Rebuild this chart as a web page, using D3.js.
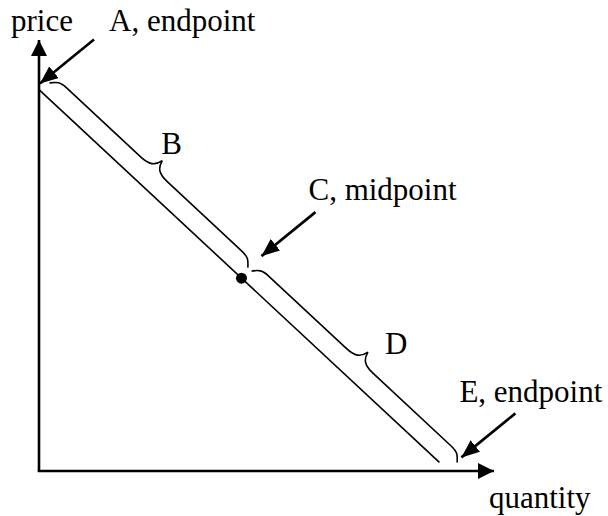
<!DOCTYPE html>
<html>
<head>
  <meta charset="utf-8">
  <title>Demand curve</title>
  <script src="https://d3js.org/d3.v7.min.js"></script>
  <style>
    body { margin: 0; background: #fff; }
    text { font-family: "Times New Roman", "Liberation Serif", serif; font-size: 31px; fill: #000; }
  </style>
</head>
<body>
  <div id="chart"></div>

  <script>
    // axis titles
    var axisTitles = ['quantity', 'price'];

    // the straight demand line, endpoints in (quantity, price)
    var demandQ = [0, 88];
    var demandP = [88.5, 2];

    // labelled points on the line
    var pointNames = ['A, endpoint', 'C, midpoint', 'E, endpoint'];
    var pointQ = [0, 44.5, 88];
    var pointP = [88.5, 44.75, 2];

    // braces, as quantity ranges along the line
    var braceNames = ['B', 'D'];
    var braceFrom = [0.5, 44.9];
    var braceTo = [44.1, 90.1];

    var width = 608, height = 516;

    var x = d3.scaleLinear().domain([0, 100]).range([39, 494]);
    var y = d3.scaleLinear().domain([0, 100]).range([471, 40]);

    // price on the demand line for a given quantity
    var priceAt = d3.scaleLinear().domain(demandQ).range(demandP);

    var svg = d3.select('#chart').append('svg')
      .attr('width', width)
      .attr('height', height);

    var defs = svg.append('defs');
    defs.append('marker')
      .attr('id', 'axis-head')
      .attr('viewBox', '0 0 16 16')
      .attr('refX', 16).attr('refY', 8)
      .attr('markerWidth', 16).attr('markerHeight', 16)
      .attr('markerUnits', 'userSpaceOnUse')
      .attr('orient', 'auto')
      .append('path')
      .attr('d', 'M0,0 L16,8 L0,16 Z')
      .attr('fill', '#000');

    defs.append('marker')
      .attr('id', 'note-head')
      .attr('viewBox', '0 0 18 15')
      .attr('refX', 18).attr('refY', 7.5)
      .attr('markerWidth', 18).attr('markerHeight', 15)
      .attr('markerUnits', 'userSpaceOnUse')
      .attr('orient', 'auto')
      .append('path')
      .attr('d', 'M0,0 L18,7.5 L0,15 Z')
      .attr('fill', '#000');

    // axes
    svg.append('line')
      .attr('x1', x(0)).attr('y1', y(0))
      .attr('x2', x(0)).attr('y2', y(100))
      .attr('stroke', '#000').attr('stroke-width', 2.6)
      .attr('marker-end', 'url(#axis-head)');
    svg.append('line')
      .attr('x1', x(0) - 1.3).attr('y1', y(0))
      .attr('x2', x(100)).attr('y2', y(0))
      .attr('stroke', '#000').attr('stroke-width', 2.6)
      .attr('marker-end', 'url(#axis-head)');

    svg.append('text')
      .attr('x', 489).attr('y', 508)
      .text(axisTitles[0]);
    svg.append('text')
      .attr('x', 11).attr('y', 31)
      .text(axisTitles[1]);

    // demand line
    svg.append('line')
      .attr('x1', x(demandQ[0])).attr('y1', y(demandP[0]))
      .attr('x2', x(demandQ[1])).attr('y2', y(demandP[1]))
      .attr('stroke', '#000').attr('stroke-width', 1.6);

    // midpoint dot
    svg.append('circle')
      .attr('cx', x(pointQ[1])).attr('cy', y(pointP[1]))
      .attr('r', 5.5)
      .attr('fill', '#000');

    // line direction in screen space
    var dx = x(demandQ[1]) - x(demandQ[0]);
    var dy = y(demandP[1]) - y(demandP[0]);
    var angle = Math.atan2(dy, dx) * 180 / Math.PI;
    var len = Math.sqrt(dx * dx + dy * dy);
    var ux = dx / len, uy = dy / len;      // along the line
    var vx = uy, vy = -ux;                  // outward, to the upper right

    // curly brace in local coordinates (u along line, -v outward)
    var vEnd = 12, vSide = 20, vTip = 32;
    function bracePath(L) {
      var m = L / 2, r = 16, t = 18;
      var p = d3.path();
      p.moveTo(0, -vEnd);
      p.bezierCurveTo(5, -vEnd - 6, 7, -vSide, r, -vSide);
      p.lineTo(m - t, -vSide);
      p.bezierCurveTo(m - 7, -vSide, m - 2, -vSide - 3, m, -vTip);
      p.bezierCurveTo(m + 2, -vSide - 3, m + 7, -vSide, m + t, -vSide);
      p.lineTo(L - r, -vSide);
      p.bezierCurveTo(L - 7, -vSide, L - 5, -vEnd - 6, L, -vEnd);
      return p.toString();
    }

    var braceText = [[-1, -7], [17, 2]]; // label offset from the brace tip, px

    braceNames.forEach(function(name, i) {
      var x0 = x(braceFrom[i]), y0 = y(priceAt(braceFrom[i]));
      var x1 = x(braceTo[i]), y1 = y(priceAt(braceTo[i]));
      var L = Math.sqrt((x1 - x0) * (x1 - x0) + (y1 - y0) * (y1 - y0));
      svg.append('path')
        .attr('transform', 'translate(' + x0 + ',' + y0 + ') rotate(' + angle + ')')
        .attr('d', bracePath(L))
        .attr('fill', 'none')
        .attr('stroke', '#000')
        .attr('stroke-width', 1.6);
      var tx = (x0 + x1) / 2 + vx * vTip, ty = (y0 + y1) / 2 + vy * vTip;
      svg.append('text')
        .attr('x', tx + braceText[i][0]).attr('y', ty + braceText[i][1])
        .text(name);
    });

    // arrows pointing at A, C and E
    var noteTip = [[1, -6], [20, -22], [22, -5]];     // tip offset from the point, px
    var noteText = [[15, -9], [-7, -12], [-56, -11]]; // text offset from the arrow tail, px
    var arrowVec = [-54, 44];

    pointNames.forEach(function(name, i) {
      var px = x(pointQ[i]) + noteTip[i][0];
      var py = y(pointP[i]) + noteTip[i][1];
      var sx = px - arrowVec[0], sy = py - arrowVec[1];
      svg.append('line')
        .attr('x1', sx).attr('y1', sy)
        .attr('x2', px).attr('y2', py)
        .attr('stroke', '#000').attr('stroke-width', 2.6)
        .attr('marker-end', 'url(#note-head)');
      svg.append('text')
        .attr('x', sx + noteText[i][0]).attr('y', sy + noteText[i][1])
        .text(name);
    });
  </script>
</body>
</html>
